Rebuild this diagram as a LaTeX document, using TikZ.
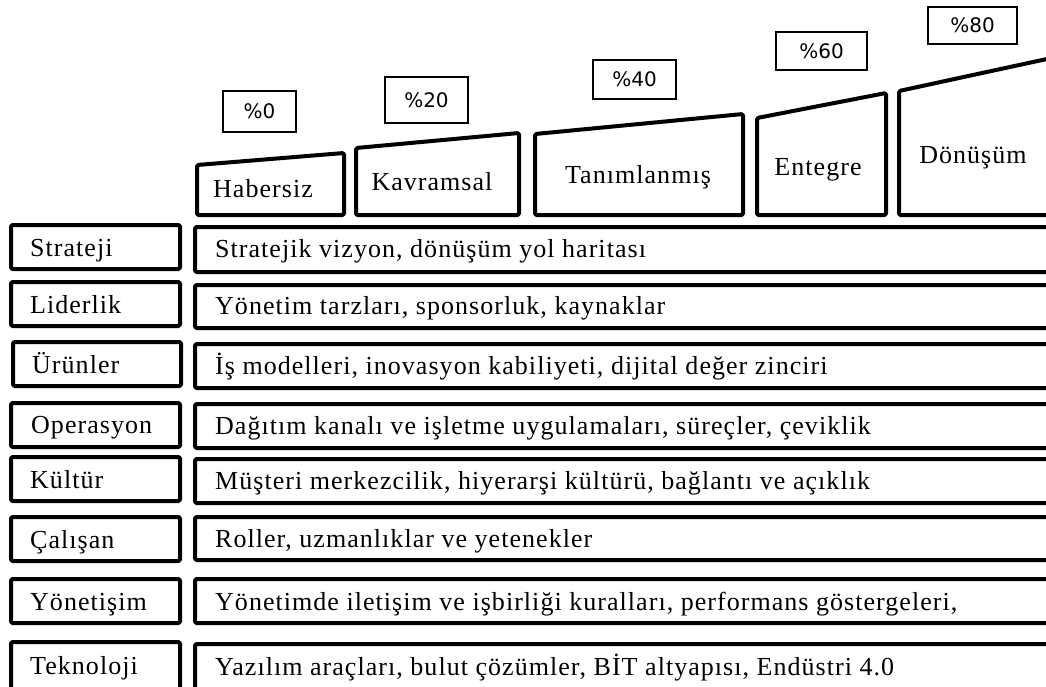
\documentclass[tikz,border=0pt]{standalone}
\usepackage{fontspec}
\setmainfont[LetterSpace=4.0]{Liberation Serif}
\newfontfamily\pctfont{DejaVu Sans}
\begin{document}
\begin{tikzpicture}[x=1pt,y=-1pt,
  thick box/.style={draw=black, line width=4pt, rounded corners=1.5pt, line join=round},
  lbox/.style={thick box, inner sep=0pt},
  rowtext/.style={anchor=base west, inner sep=0pt, font=\fontsize{26}{30}\selectfont},
  headtext/.style={anchor=base, inner sep=0pt, font=\fontsize{26}{30}\selectfont},
  pctbox/.style={draw=black, line width=1.2pt, inner sep=0pt, font=\pctfont\fontsize{20}{24}\selectfont}]
\useasboundingbox (0,0) rectangle (1046,686);
\clip (0,0) rectangle (1046,686);
\fill[white] (0,0) rectangle (1046,686);

% percent boxes
\node[pctbox, minimum width=73, minimum height=41] (p0) at (259.5,111.5) {\%0};
\node[pctbox, minimum width=83, minimum height=46] (p20) at (426.5,100) {\%20};
\node[pctbox, minimum width=83, minimum height=39] (p40) at (634.5,79.5) {\%40};
\node[pctbox, minimum width=91, minimum height=38] (p60) at (821.5,51) {\%60};
\node[pctbox, minimum width=89, minimum height=37] (p80) at (972.5,25.5) {\%80};

% header trapezoids
\draw[thick box] (197,215) -- (197,165) -- (344,153) -- (344,215) -- cycle;
\draw[thick box] (356,215) -- (356,148) -- (519,133) -- (519,215) -- cycle;
\draw[thick box] (535,215) -- (535,134) -- (743,114) -- (743,215) -- cycle;
\draw[thick box] (757,215) -- (757,118) -- (886,93) -- (886,215) -- cycle;
\draw[thick box] (899,215) -- (899,91) -- (1070,54) -- (1070,215) -- cycle;
\node[headtext] (h1) at (263,197) {Habersiz};
\node[headtext] (h2) at (432,190) {Kavramsal};
\node[headtext] (h3) at (638,183) {Tanımlanmış};
\node[headtext] (h4) at (818,175) {Entegre};
\node[headtext] (h5) at (973,163) {Dönüşüm};

% left boxes
\node[lbox, minimum width=169, minimum height=44] (l1) at (95.5,247) {};
\node[lbox, minimum width=169, minimum height=44] (l2) at (95.5,304) {};
\node[lbox, minimum width=168, minimum height=44] (l3) at (97,364) {};
\node[lbox, minimum width=169, minimum height=44] (l4) at (95.5,425) {};
\node[lbox, minimum width=169, minimum height=44] (l5) at (95.5,479) {};
\node[lbox, minimum width=169, minimum height=44] (l6) at (95.5,539) {};
\node[lbox, minimum width=169, minimum height=44] (l7) at (95.5,601) {};
\node[lbox, minimum width=169, minimum height=48] (l8) at (95.5,666) {};

% right boxes
\node[lbox, minimum width=875, minimum height=45] (r1) at (632.5,249.5) {};
\node[lbox, minimum width=875, minimum height=43] (r2) at (632.5,306.5) {};
\node[lbox, minimum width=875, minimum height=44] (r3) at (632.5,366) {};
\node[lbox, minimum width=875, minimum height=44] (r4) at (632.5,426) {};
\node[lbox, minimum width=875, minimum height=44] (r5) at (632.5,481) {};
\node[lbox, minimum width=875, minimum height=43] (r6) at (632.5,538.5) {};
\node[lbox, minimum width=875, minimum height=44] (r7) at (632.5,601) {};
\node[lbox, minimum width=875, minimum height=46] (r8) at (632.5,667) {};

% left texts
\node[rowtext] (lt1) at (30,256) {Strateji};
\node[rowtext] (lt2) at (30,313) {Liderlik};
\node[rowtext] (lt3) at (32,373) {Ürünler};
\node[rowtext] (lt4) at (31,433) {Operasyon};
\node[rowtext] (lt5) at (30,488) {Kültür};
\node[rowtext] (lt6) at (30,548) {Çalışan};
\node[rowtext] (lt7) at (30,610) {Yönetişim};
\node[rowtext] (lt8) at (30,674) {Teknoloji};

% right texts
\node[rowtext] (rt1) at (215,257) {Stratejik vizyon, dönüşüm yol haritası};
\node[rowtext] (rt2) at (215,314) {Yönetim tarzları, sponsorluk, kaynaklar};
\node[rowtext] (rt3) at (215,374) {İş modelleri, inovasyon kabiliyeti, dijital değer zinciri};
\node[rowtext] (rt4) at (215,434) {Dağıtım kanalı ve işletme uygulamaları, süreçler, çeviklik};
\node[rowtext] (rt5) at (215,489) {Müşteri merkezcilik, hiyerarşi kültürü, bağlantı ve açıklık};
\node[rowtext] (rt6) at (215,547) {Roller, uzmanlıklar ve yetenekler};
\node[rowtext] (rt7) at (215,610) {Yönetimde iletişim ve işbirliği kuralları, performans göstergeleri,};
\node[rowtext] (rt8) at (215,675) {Yazılım araçları, bulut çözümler, BİT altyapısı, Endüstri 4.0};
\end{tikzpicture}
\end{document}
